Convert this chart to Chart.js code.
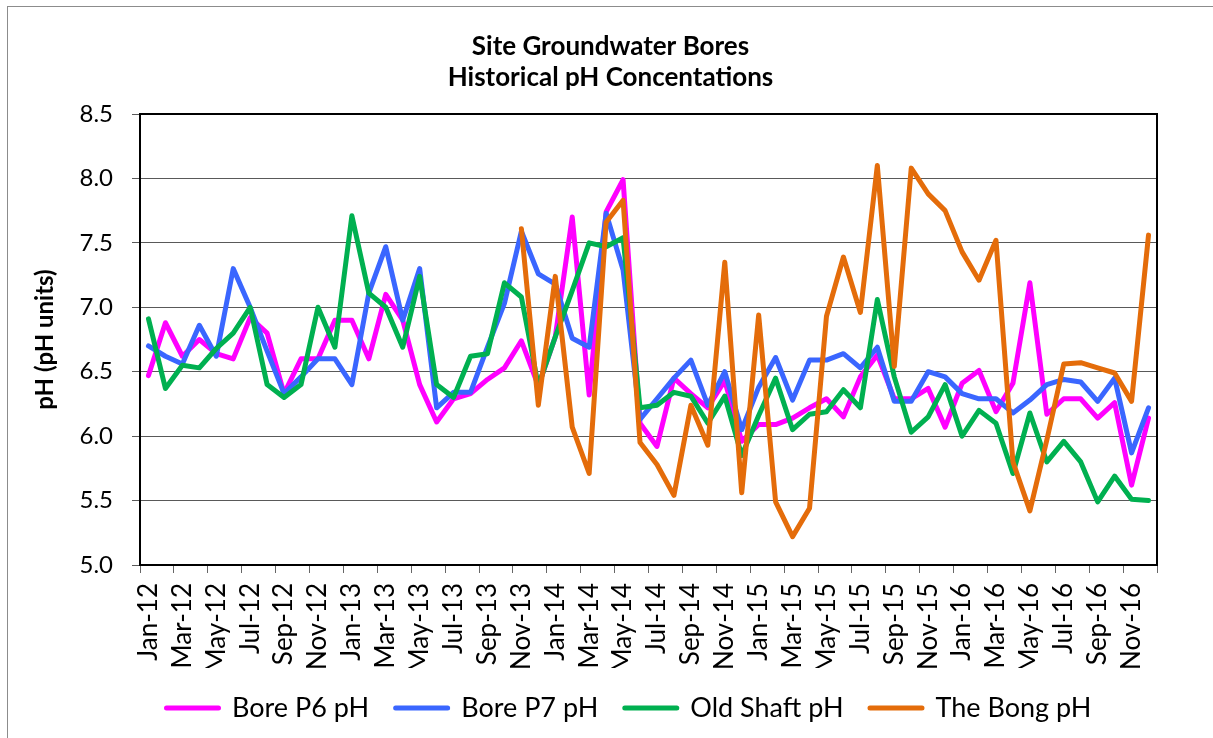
<!DOCTYPE html>
<html>
<head>
<meta charset="utf-8">
<script src="https://cdn.jsdelivr.net/npm/chart.js@4/dist/chart.umd.min.js"></script>
<style>
  body { margin: 0; background: #fff; overflow: hidden; }
  #frame { position: absolute; left: 7px; top: 6px; width: 1400px; height: 900px; border: 1px solid #8c8c8c; }
  #myChart { position: absolute; left: 0; top: 0; }
</style>
</head>
<body>
<div id="frame"></div>
<canvas id="myChart" width="1213" height="738"></canvas>
<script>
const months = [
  "Jan-12", "Feb-12", "Mar-12", "Apr-12", "May-12", "Jun-12", "Jul-12", "Aug-12", "Sep-12", "Oct-12", "Nov-12", "Dec-12",
  "Jan-13", "Feb-13", "Mar-13", "Apr-13", "May-13", "Jun-13", "Jul-13", "Aug-13", "Sep-13", "Oct-13", "Nov-13", "Dec-13",
  "Jan-14", "Feb-14", "Mar-14", "Apr-14", "May-14", "Jun-14", "Jul-14", "Aug-14", "Sep-14", "Oct-14", "Nov-14", "Dec-14",
  "Jan-15", "Feb-15", "Mar-15", "Apr-15", "May-15", "Jun-15", "Jul-15", "Aug-15", "Sep-15", "Oct-15", "Nov-15", "Dec-15",
  "Jan-16", "Feb-16", "Mar-16", "Apr-16", "May-16", "Jun-16", "Jul-16", "Aug-16", "Sep-16", "Oct-16", "Nov-16", "Dec-16"
];

const boreP6 = [
  6.47, 6.88, 6.62, 6.75, 6.64, 6.60, 6.92, 6.80, 6.33, 6.60, 6.60, 6.90,
  6.90, 6.60, 7.10, 6.90, 6.40, 6.11, 6.29, 6.33, 6.44, 6.53, 6.74, 6.39,
  6.77, 7.70, 6.32, 7.74, 7.99, 6.10, 5.92, 6.45, 6.33, 6.22, 6.43, 5.96,
  6.09, 6.09, 6.14, 6.22, 6.29, 6.15, 6.46, 6.63, 6.29, 6.29, 6.37, 6.07,
  6.41, 6.51, 6.19, 6.41, 7.19, 6.17, 6.29, 6.29, 6.14, 6.26, 5.62, 6.14
];

const boreP7 = [
  6.70, 6.62, 6.56, 6.86, 6.62, 7.30, 7.00, 6.66, 6.33, 6.46, 6.60, 6.60,
  6.40, 7.11, 7.47, 6.90, 7.30, 6.22, 6.34, 6.34, 6.69, 7.03, 7.59, 7.26,
  7.18, 6.76, 6.69, 7.73, 7.29, 6.13, 6.29, 6.45, 6.59, 6.24, 6.50, 6.05,
  6.38, 6.61, 6.28, 6.59, 6.59, 6.64, 6.53, 6.69, 6.27, 6.27, 6.50, 6.46,
  6.33, 6.29, 6.29, 6.18, 6.28, 6.40, 6.44, 6.42, 6.27, 6.45, 5.87, 6.22
];

const oldShaft = [
  6.91, 6.37, 6.55, 6.53, 6.68, 6.80, 7.00, 6.40, 6.30, 6.40, 7.00, 6.69,
  7.71, 7.11, 7.00, 6.69, 7.24, 6.40, 6.30, 6.62, 6.64, 7.19, 7.08, 6.39,
  6.77, 7.13, 7.50, 7.47, 7.54, 6.22, 6.24, 6.34, 6.31, 6.10, 6.31, 5.85,
  6.16, 6.45, 6.05, 6.17, 6.19, 6.36, 6.22, 7.06, 6.46, 6.03, 6.15, 6.40,
  6.00, 6.20, 6.10, 5.71, 6.18, 5.80, 5.96, 5.80, 5.49, 5.69, 5.51, 5.50
];

const theBong = [
  null, null, null, null, null, null, null, null, null, null, null, null,
  null, null, null, null, null, null, null, null, null, null, 7.61, 6.24,
  7.24, 6.07, 5.71, 7.66, 7.83, 5.95, 5.78, 5.54, 6.24, 5.93, 7.35, 5.56,
  6.94, 5.49, 5.22, 5.44, 6.93, 7.39, 6.96, 8.10, 6.54, 8.08, 7.88, 7.75,
  7.43, 7.21, 7.52, 5.80, 5.42, 5.97, 6.56, 6.57, 6.53, 6.49, 6.27, 7.56
];

const font = "Lato, 'Open Sans', sans-serif";

// later series are drawn on top, like the spreadsheet
function series(label, data, color, order) {
  return {
    label: label,
    data: data,
    borderColor: color,
    backgroundColor: color,
    borderWidth: 5,
    pointRadius: 0,
    tension: 0,
    borderJoinStyle: "round",
    borderCapStyle: "round",
    order: order,
  };
}

// black box round the plot area
const plotBorder = {
  id: "plotBorder",
  afterDraw(chart) {
    const a = chart.chartArea;
    const c = chart.ctx;
    c.save();
    c.strokeStyle = "#000";
    c.lineWidth = 2;
    c.strokeRect(a.left, a.top, a.right - a.left, a.bottom - a.top);
    c.restore();
  },
};

let myChart = document.getElementById("myChart").getContext("2d");

let phChart = new Chart(myChart, {
  type: "line",
  data: {
    labels: months,
    datasets: [
      series("Bore P6 pH", boreP6, "#FF00FF", 4),
      series("Bore P7 pH", boreP7, "#3A66FF", 3),
      series("Old Shaft pH", oldShaft, "#00B050", 2),
      series("The Bong pH", theBong, "#E46C0A", 1),
    ],
  },
  options: {
    responsive: false,
    animation: false,
    devicePixelRatio: 1,
    layout: { padding: { left: 8, right: 0, top: 0, bottom: 6.5 } },
    plugins: {
      title: {
        display: true,
        text: ["Site Groundwater Bores", "Historical pH Concentations"],
        color: "#000",
        font: { family: font, size: 26, weight: "bold", lineHeight: 1.2 },
        padding: { top: 31, bottom: 20.6 },
      },
      legend: {
        position: "bottom",
        fullSize: false,
        align: "start",
        labels: {
          color: "#000",
          font: { family: font, size: 27 },
          boxWidth: 52,
          boxHeight: 0,
          padding: 26.5,
          sort: (a, b) => a.datasetIndex - b.datasetIndex,
        },
      },
      tooltip: { enabled: false },
    },
    scales: {
      x: {
        offset: true,
        grid: {
          offset: true,
          drawOnChartArea: false,
          tickLength: 8,
          color: (ctx) => (ctx.type !== "tick" || ctx.index % 2 === 0 ? "#666" : "rgba(0,0,0,0)"),
        },
        border: { color: "#000", width: 2 },
        ticks: {
          autoSkip: false,
          minRotation: 90,
          maxRotation: 90,
          padding: 10,
          color: "#000",
          font: { family: font, size: 26 },
          callback: function (value, index) {
            return index % 2 === 0 ? this.getLabelForValue(value) : "";
          },
        },
        afterFit: (s) => { s.height = 103; },
      },
      y: {
        min: 5,
        max: 8.5,
        grid: { color: "#595959", lineWidth: 1, tickLength: 8 },
        border: { color: "#000", width: 2 },
        ticks: {
          stepSize: 0.5,
          padding: 19,
          color: "#000",
          font: { family: font, size: 24 },
          callback: (v) => v.toFixed(1),
        },
        title: {
          display: true,
          text: "pH (pH units)",
          color: "#000",
          font: { family: font, size: 24, weight: "bold" },
          padding: { top: 23, bottom: 0 },
        },
        afterFit: (s) => { s.width = 132; },
      },
      yR: {
        position: "right",
        display: true,
        grid: { display: false },
        border: { display: false },
        ticks: { display: false },
        afterFit: (s) => { s.width = 56; },
      },
    },
  },
  plugins: [plotBorder],
});
</script>
</body>
</html>
